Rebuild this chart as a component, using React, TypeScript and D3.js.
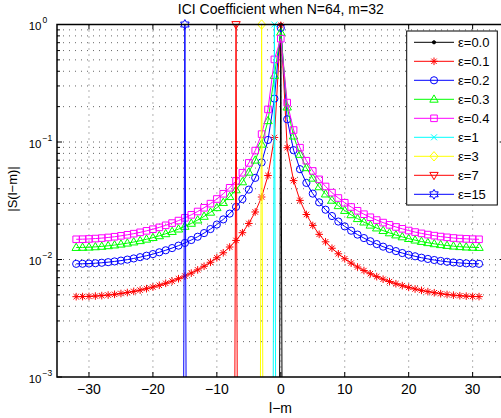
import React from 'react';
import * as d3 from 'd3';

// ---- data ----
const lm = [-32,-31,-30,-29,-28,-27,-26,-25,-24,-23,-22,-21,-20,-19,-18,-17,-16,-15,-14,-13,-12,-11,-10,-9,-8,-7,-6,-5,-4,-3,-2,-1,
  0,1,2,3,4,5,6,7,8,9,10,11,12,13,14,15,16,17,18,19,20,21,22,23,24,25,26,27,28,29,30,31];

const eps01 = [0.004828,0.004835,0.004854,0.004885,0.004928,0.004984,0.005053,0.005137,0.005237,0.005354,0.005489,0.005646,0.005826,0.006033,0.006272,0.006546,
  0.006862,0.007229,0.007657,0.008160,0.008755,0.009470,0.01034,0.01141,0.01277,0.01453,0.01691,0.02027,0.02538,0.03403,0.05185,0.1093,
  0.9836,0.08946,0.04692,0.03185,0.02415,0.01949,0.01637,0.01414,0.01247,0.01118,0.01015,0.009316,0.008628,0.008052,0.007566,0.007151,
  0.006795,0.006488,0.006221,0.005990,0.005788,0.005613,0.005461,0.005329,0.005216,0.005119,0.005038,0.004971,0.004918,0.004878,0.004849,0.004833];

const eps02 = [0.009184,0.009200,0.009238,0.009298,0.009382,0.009491,0.009626,0.009789,0.009981,0.01021,0.01047,0.01077,0.01112,0.01152,0.01198,0.01251,
  0.01312,0.01383,0.01465,0.01562,0.01678,0.01816,0.01985,0.02194,0.02458,0.02803,0.03270,0.03934,0.04952,0.06703,0.1041,0.2339,
  0.9355,0.1560,0.08521,0.05871,0.04486,0.03637,0.03065,0.02653,0.02344,0.02104,0.01913,0.01758,0.01629,0.01522,0.01431,0.01353,
  0.01286,0.01229,0.01179,0.01135,0.01097,0.01065,0.01036,0.01011,0.009901,0.009720,0.009569,0.009445,0.009346,0.009271,0.009220,0.009191];

const eps03 = [0.01264,0.01267,0.01272,0.01281,0.01293,0.01308,0.01327,0.01350,0.01377,0.01408,0.01445,0.01487,0.01535,0.01591,0.01655,0.01729,
  0.01814,0.01913,0.02029,0.02165,0.02327,0.02521,0.02758,0.03052,0.03425,0.03913,0.04577,0.05527,0.06998,0.09565,0.1516,0.3679,
  0.8584,0.1982,0.1122,0.07837,0.06033,0.04914,0.04153,0.03604,0.03190,0.02867,0.02610,0.02400,0.02226,0.02081,0.01958,0.01852,
  0.01762,0.01684,0.01616,0.01557,0.01506,0.01461,0.01422,0.01389,0.01360,0.01336,0.01315,0.01298,0.01285,0.01275,0.01268,0.01265];

const eps04 = [0.01486,0.01489,0.01496,0.01507,0.01521,0.01540,0.01562,0.01590,0.01622,0.01659,0.01703,0.01753,0.01811,0.01877,0.01954,0.02042,
  0.02144,0.02262,0.02400,0.02562,0.02756,0.02988,0.03273,0.03626,0.04076,0.04667,0.05474,0.06636,0.08451,0.1167,0.1894,0.5046,
  0.7569,0.2164,0.1264,0.08944,0.06933,0.05671,0.04808,0.04182,0.03707,0.03337,0.03041,0.02799,0.02598,0.02430,0.02288,0.02166,
  0.02061,0.01971,0.01892,0.01824,0.01764,0.01712,0.01668,0.01629,0.01596,0.01567,0.01544,0.01524,0.01509,0.01498,0.01490,0.01486];

// integer offsets: a single unit peak at l-m = -eps, numerically ~0 elsewhere
const eps0Lm = [-1, 0, 1];
const eps1Lm = [-2, -1, 0];
const eps3Lm = [-4, -3, -2];
const eps7Lm = [-8, -7, -6];
const eps15Lm = [-16, -15, -14];
const peakValues = [3.9e-17, 1, 3.9e-17];

const legendLabels = ['ε=0.0', 'ε=0.1', 'ε=0.2', 'ε=0.3', 'ε=0.4', 'ε=1', 'ε=3', 'ε=7', 'ε=15'];
const xTickValues = [-30, -20, -10, 0, 10, 20, 30];
const yTickExps = [-3, -2, -1, 0];

// ---- layout ----
const W = 501, H = 418;
const L = 57, T = 24.5, R = 504.6, B = 377;

const x = d3.scaleLinear().domain([-35, 35]).range([L, R]);
const y = d3.scaleLog().domain([1e-3, 1]).range([B, T]);

type Marker = '.' | '*' | 'o' | '^' | 's' | 'x' | 'd' | 'v' | 'h';

function hexagram(Ro: number) {
  const ri = Ro / Math.sqrt(3);
  const pts: string[] = [];
  for (let i = 0; i < 12; i++) {
    const a = -Math.PI / 2 + (i * Math.PI) / 6;
    const r = i % 2 === 0 ? Ro : ri;
    pts.push(`${(r * Math.cos(a)).toFixed(2)},${(r * Math.sin(a)).toFixed(2)}`);
  }
  return 'M' + pts.join('L') + 'Z';
}

function markerPath(m: Marker): string {
  switch (m) {
    case 'o': return 'M3.6,0A3.6,3.6 0 1,1 -3.6,0A3.6,3.6 0 1,1 3.6,0Z';
    case 's': return 'M-3.3,-3.3H3.3V3.3H-3.3Z';
    case '^': return 'M0,-4.4L4.2,2.9L-4.2,2.9Z';
    case 'v': return 'M0,4.4L4.2,-2.9L-4.2,-2.9Z';
    case 'd': return 'M0,-4.7L4.1,0L0,4.7L-4.1,0Z';
    case 'x': return 'M-3,-3L3,3M-3,3L3,-3';
    case '*': return 'M-3.8,0H3.8M0,-3.8V3.8M-2.7,-2.7L2.7,2.7M-2.7,2.7L2.7,-2.7';
    case 'h': return hexagram(4.9);
    case '.': return 'M1.6,0A1.6,1.6 0 1,1 -1.6,0A1.6,1.6 0 1,1 1.6,0Z';
  }
}

interface Series { label: string; color: string; marker: Marker; xs: number[]; ys: number[]; }

const series: Series[] = [
  { label: legendLabels[0], color: '#000000', marker: '.', xs: eps0Lm, ys: peakValues },
  { label: legendLabels[1], color: '#ff0000', marker: '*', xs: lm, ys: eps01 },
  { label: legendLabels[2], color: '#0000ff', marker: 'o', xs: lm, ys: eps02 },
  { label: legendLabels[3], color: '#00ff00', marker: '^', xs: lm, ys: eps03 },
  { label: legendLabels[4], color: '#ff00ff', marker: 's', xs: lm, ys: eps04 },
  { label: legendLabels[5], color: '#00ffff', marker: 'x', xs: eps1Lm, ys: peakValues },
  { label: legendLabels[6], color: '#ffff00', marker: 'd', xs: eps3Lm, ys: peakValues },
  { label: legendLabels[7], color: '#ff0000', marker: 'v', xs: eps7Lm, ys: peakValues },
  { label: legendLabels[8], color: '#0000ff', marker: 'h', xs: eps15Lm, ys: peakValues },
];

const font = 'Liberation Sans, Arial, Helvetica, sans-serif';

function MarkerShape({ m, color, cx, cy }: { m: Marker; color: string; cx: number; cy: number }) {
  return (
    <path d={markerPath(m)} transform={`translate(${cx},${cy})`}
      fill={m === '.' ? color : 'none'} stroke={color} strokeWidth={1} />
  );
}

export default function App() {
  const line = d3.line<[number, number]>().x(d => x(d[0])).y(d => y(d[1]));
  const minorVals: number[] = [];
  yTickExps.slice(0, -1).forEach(e => {
    for (let k = 2; k <= 9; k++) minorVals.push(k * Math.pow(10, e));
  });
  const majorVals = yTickExps.map(e => Math.pow(10, e));
  const dots = '1 5';

  const legX = 406.7, legY = 31, legW = 90.6, legH = 174;
  const legRow0 = 42.3, legStep = 19.0;

  return (
    <svg width={W} height={H} style={{ position: 'absolute', left: 0, top: 0, background: '#fff' }}
      fontFamily={font}>
      <defs>
        <clipPath id="plotclip"><rect x={L} y={T} width={R - L} height={B - T} /></clipPath>
      </defs>
      <rect x={0} y={0} width={W} height={H} fill="#fff" />

      {/* grid */}
      <g stroke="#000" strokeWidth={0.8} strokeDasharray={dots} opacity={0.75}>
        {xTickValues.map(v => <line key={'gx' + v} x1={x(v)} x2={x(v)} y1={T} y2={B} />)}
        {[...majorVals.slice(1, -1), ...minorVals].map(v => (
          <line key={'gy' + v} x1={L} x2={R} y1={y(v)} y2={y(v)} />
        ))}
      </g>

      {/* series */}
      {series.map((s, i) => {
        const pts = s.xs.map((xv, j) => [xv, s.ys[j]] as [number, number]);
        return (
          <g key={'s' + i}>
            <path d={line(pts) || ''} fill="none" stroke={s.color} strokeWidth={1} clipPath="url(#plotclip)" />
            {pts.filter(p => p[1] >= 1e-3 && p[1] <= 1).map((p, j) => (
              <MarkerShape key={j} m={s.marker} color={s.color} cx={x(p[0])} cy={y(p[1])} />
            ))}
          </g>
        );
      })}

      {/* axes frame */}
      <rect x={L} y={T} width={R - L} height={B - T} fill="none" stroke="#000" strokeWidth={1.5} />
      <g stroke="#000" strokeWidth={1}>
        {xTickValues.map(v => (
          <g key={'tx' + v}>
            <line x1={x(v)} x2={x(v)} y1={B} y2={B - 5} />
            <line x1={x(v)} x2={x(v)} y1={T} y2={T + 5} />
          </g>
        ))}
        {majorVals.map(v => (
          <g key={'ty' + v}>
            <line x1={L} x2={L + 5} y1={y(v)} y2={y(v)} />
            <line x1={R} x2={R - 5} y1={y(v)} y2={y(v)} />
          </g>
        ))}
        {minorVals.map(v => (
          <g key={'tm' + v}>
            <line x1={L} x2={L + 3} y1={y(v)} y2={y(v)} />
            <line x1={R} x2={R - 3} y1={y(v)} y2={y(v)} />
          </g>
        ))}
      </g>

      {/* tick labels */}
      <g fontSize={14} fill="#000" textAnchor="middle">
        {xTickValues.map(v => (
          <text key={'lx' + v} x={x(v)} y={394}>{v < 0 ? '\u2212' + Math.abs(v) : String(v)}</text>
        ))}
      </g>
      {yTickExps.map(e => {
        const yy = y(Math.pow(10, e));
        return (
          <g key={'ly' + e} fill="#000">
            <text x={41.5} y={yy + 5.5} fontSize={11.5} textAnchor="end">10</text>
            <text x={42.5} y={yy - 1.3} fontSize={8.5} textAnchor="start">{e < 0 ? '\u2212' + Math.abs(e) : String(e)}</text>
          </g>
        );
      })}

      {/* titles */}
      <text x={(L + R) / 2} y={14} fontSize={14} textAnchor="middle" fill="#000">ICI Coefficient when N=64, m=32</text>
      <text x={280.5} y={413} fontSize={14} textAnchor="middle" fill="#000">l{'\u2212'}m</text>
      <text transform={`translate(17,189) rotate(-90)`} fontSize={13} textAnchor="middle" fill="#000">|S(l{'\u2212'}m)|</text>

      {/* legend */}
      <rect x={legX} y={legY} width={legW} height={legH} fill="#fff" stroke="#000" strokeWidth={1} />
      {series.map((s, i) => {
        const ly = legRow0 + i * legStep;
        return (
          <g key={'lg' + i}>
            <line x1={414} x2={454} y1={ly} y2={ly} stroke={s.color} strokeWidth={1} />
            <MarkerShape m={s.marker} color={s.color} cx={434} cy={ly} />
            <text x={458} y={ly + 4.6} fontSize={13} fill="#000">{s.label}</text>
          </g>
        );
      })}
    </svg>
  );
}
